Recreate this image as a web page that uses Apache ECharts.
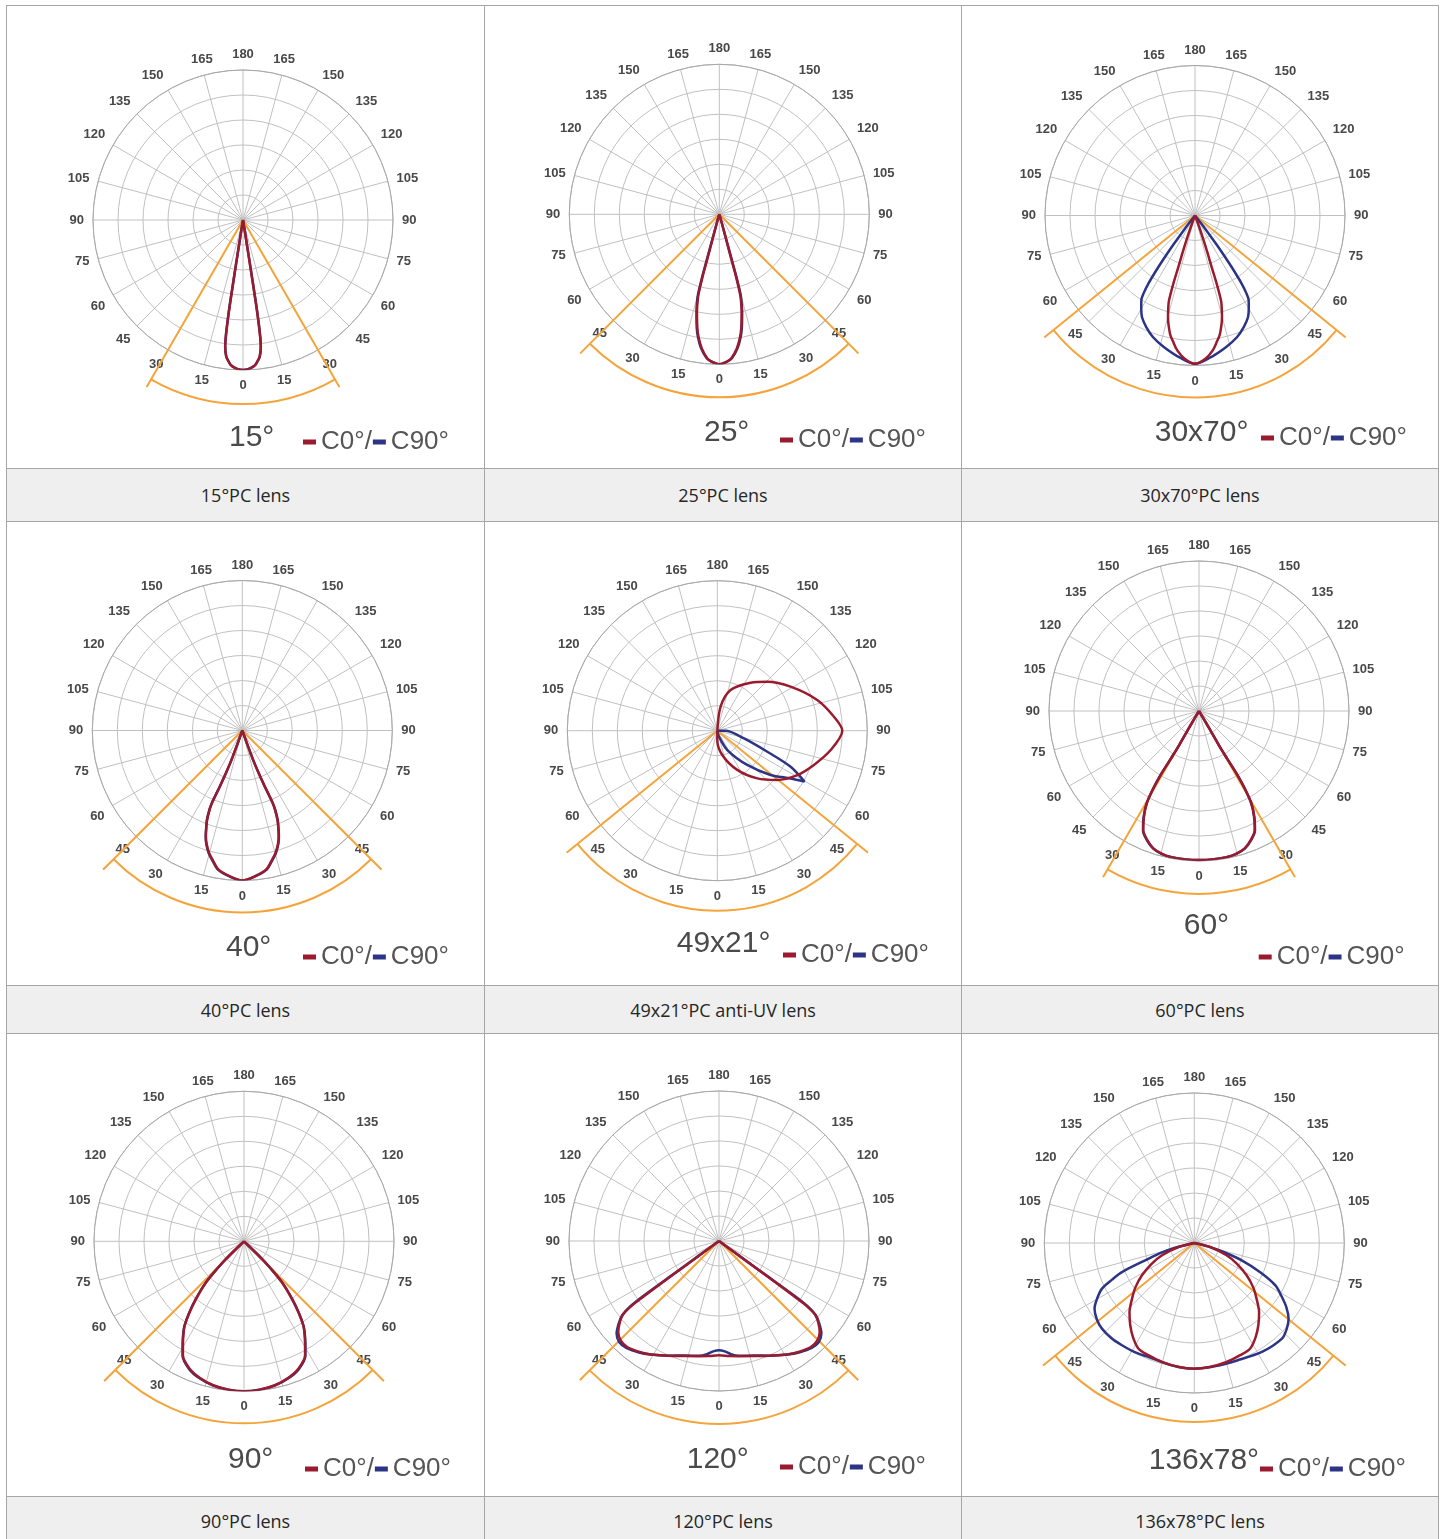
<!DOCTYPE html>
<html><head><meta charset="utf-8">
<script src="https://cdn.jsdelivr.net/npm/echarts@6/dist/echarts.min.js"></script>
<style>
html,body{margin:0;padding:0;background:#fff}
body{width:1444px;height:1539px;position:relative;overflow:hidden;font-family:'Open Sans',sans-serif}
.cell{position:absolute;box-sizing:border-box;border:1px solid #a6a6a6;background:#fff}
.cap{position:absolute;box-sizing:border-box;border:1px solid #a6a6a6;background:#efefef;display:flex;align-items:center;justify-content:center;font-size:18px;color:#262626}
.chart{position:absolute}
</style></head><body>
<script>
// ---------------- DATA (half profiles: [angle from nadir, intensity in ring units]) ----------------
const panelTitles = ['15°','25°','30x70°','40°','49x21°','60°','90°','120°','136x78°'];
const captions = ['15°PC lens','25°PC lens','30x70°PC lens','40°PC lens','49x21°PC anti-UV lens','60°PC lens','90°PC lens','120°PC lens','136x78°PC lens'];
const angleTicks = [0,15,30,45,60,75,90,105,120,135,150,165,180];
const seriesNames = ['C0°','C90°'];

// beam marker (orange): half-angles (deg)
const beamHalfAngle = [30,45,51,45,51,30,45,45,51];

// 15°
const p1_c0  = [[0,6.0],[2,5.97],[4,5.88],[5,5.8],[6,5.66],[7,5.5],[8,5.12],[8.4,4.6],[8.7,3.8],[8.8,3.2],[8.9,1.9],[9,0.9],[9.5,0.3],[10,0]];
const p1_c90 = [[0,6.0],[2,5.97],[4,5.88],[5,5.8],[6,5.66],[7,5.5],[8,5.12],[8.5,4.6],[8.8,3.8],[8.9,3.2],[9,1.9],[9.1,0.9],[9.5,0.3],[10,0]];
// 25°
const p2_c0  = [[0,6.0],[3,5.9],[4.8,5.78],[7.5,5.4],[9.5,5.0],[10.9,4.64],[12.9,4.0],[14,3.6],[14.6,3.3],[15,2.6],[15,1.96],[15.2,0.86],[16,0.3],[17,0]];
const p2_c90 = [[0,6.0],[3,5.9],[5,5.78],[7.8,5.4],[9.8,5.0],[11.2,4.64],[13.2,4.0],[14.3,3.6],[14.9,3.3],[15.3,2.6],[15.4,1.96],[15.6,0.86],[16,0.3],[17,0]];
// 30x70°
const p3_c0  = [[0,5.93],[4,5.75],[7.5,5.44],[10,5.1],[11.9,4.84],[14.9,4.2],[16.3,3.8],[17,3.56],[17.6,2.9],[17.9,2.17],[18.5,1.6],[19.2,1.06],[20,0.5],[21,0]];
const p3_c90 = [[0,5.93],[6,5.72],[13.2,5.41],[19,5.15],[23.6,4.87],[27.5,4.59],[30,4.3],[32.3,4.02],[33.5,3.7],[34.4,3.31],[35.4,2.54],[36,2.0],[36.6,1.41],[37.5,0.7],[38,0]];
// 40°
const p4_c0  = [[0,6.0],[5,5.85],[9.8,5.64],[13,5.3],[15.2,5.07],[17.5,4.75],[19,4.47],[20.5,4.1],[21.5,3.83],[22.5,3.4],[22.7,3.14],[22.4,2.8],[21.8,2.4],[21,1.8],[20.2,1.24],[20,0.6],[20,0]];
const p4_c90 = [[0,6.0],[5,5.86],[9.8,5.66],[13,5.33],[15.2,5.1],[17.5,4.78],[19,4.5],[20.5,4.12],[21.6,3.85],[22.6,3.4],[22.8,3.14],[22.5,2.8],[21.9,2.4],[21,1.8],[20.2,1.24],[20,0.6],[20,0]];
// 49x21° (asymmetric, full loops: [angle 0..360 clockwise from nadir, value])
const p5_c0  = [[188,0],[187.8,0.97],[198.1,1.71],[214.8,2.34],[225.6,2.8],[239,3.42],[252.9,4.18],[263.2,4.7],[270,5.0],[279.7,4.6],[289.5,4.1],[299,3.66],[309.4,3.1],[320,2.49],[333,1.76],[348.4,0.99],[360,0.37],[0,0]];
const p5_c90 = [[270,0],[270,0.33],[286.1,1.11],[292.8,2.17],[296.2,3.27],[300.3,4.04],[303.1,3.5],[309.7,2.77],[318.8,1.82],[332.6,0.87],[344,0.25],[0,0]];
// 60°
const p6_c0  = [[0,5.96],[5,5.96],[10.6,5.95],[14.5,5.9],[18.4,5.79],[22,5.55],[25.1,5.26],[27.5,4.77],[29.5,4.24],[30.5,3.6],[30.9,2.9],[30.5,2.2],[30.1,1.65],[30.5,1.0],[30.7,0.57],[31,0]];
const p6_c90 = [[0,5.96],[5,5.96],[10.6,5.95],[14.5,5.91],[18.4,5.8],[22,5.57],[25.1,5.28],[27.5,4.8],[29.5,4.26],[30.6,3.6],[31,2.9],[30.6,2.2],[30.2,1.65],[30.5,1.0],[30.7,0.57],[31,0]];
// 90°
const p7_c0  = [[0,6.0],[6,5.97],[12.1,5.89],[18,5.74],[23.1,5.54],[28.2,5.17],[31.2,4.71],[33.5,4.38],[35.2,4.11],[37.5,3.57],[40,2.95],[42.8,2.22],[44.5,1.5],[45.6,0.99],[46,0.4],[46,0]];
const p7_c90 = [[0,6.0],[6,5.97],[12.1,5.9],[18,5.76],[23.1,5.57],[28.2,5.2],[31.2,4.74],[33.5,4.4],[35.2,4.13],[37.5,3.6],[40,2.97],[42.8,2.24],[44.5,1.5],[45.6,0.99],[46,0.4],[46,0]];
// 120°
const p8_c0  = [[0,4.57],[5,4.62],[10,4.68],[16.9,4.81],[24,5.02],[31,5.3],[36,5.47],[40.9,5.61],[44.7,5.59],[47.9,5.43],[50.5,5.15],[52.5,4.85],[53.4,4.4],[53.6,3.73],[53.8,2.39],[53.6,1.08],[54,0]];
const p8_c90 = [[0,4.37],[3,4.42],[6,4.55],[10,4.66],[16.9,4.79],[24,5.02],[31,5.3],[36,5.5],[40.9,5.66],[44.7,5.68],[47.9,5.52],[50.5,5.2],[52.5,4.88],[53.6,4.4],[54,3.73],[54,2.39],[54,1.08],[54,0]];
// 136x78°
const p9_c0  = [[0,5.03],[7,5.0],[15.2,4.93],[22,4.85],[27.8,4.78],[33,4.5],[37.9,4.17],[43,3.8],[48.2,3.34],[53,2.95],[58.3,2.46],[64,1.9],[69.2,1.38],[75.7,0.65],[78,0]];
const p9_c90_left  = [[0,5.03],[10,4.98],[21.8,4.91],[28,4.97],[35.3,5.01],[41,5.05],[47.1,5.04],[52,4.95],[56.6,4.78],[60,4.5],[63.7,4.12],[66,3.6],[68.1,3.12],[71,1.93],[73.5,1.4],[75.7,0.92],[78,0]];
const p9_c90_right = [[0,5.03],[10,5.0],[20,5.0],[31.8,5.13],[42.5,5.19],[47,5.05],[51.2,4.84],[55,4.5],[58.5,4.1],[62.4,3.66],[66,2.9],[70,2.0],[73,1.2],[76,0.6],[78,0]];

// ---------------- LAYOUT ----------------
const colX = [6,484,961], colRight = 1438;
const rowY = [5,521,1033], capY = [468,985,1496], rowEnd = [521,1033,1545];
const centers = [[237,215],[235.3,209.3],[234,210.5],[236.3,209.5],[233.3,209.7],[238,190],[238,208.3],[235,208],[233.3,210]];
const arcRadiusPx = [184,183,182,182,180,183,182,183,179];
const rayLengthPx = [193,197,194,197,194,192,198,197,195];
const titlePos = [[223,418],[220,412.7],[193.7,412.7],[220,411.7],[192.7,408],[222.7,390],[222,411.7],[202.7,411.7],[187.7,413]];
const legendPos = [[297,424],[296,422],[300,420],[297,423],[299,421],[297.7,423],[299,423],[296,421],[299,423]];

const ORANGE = '#f4a43a', RED = '#9b1b2e', BLUE = '#2c3486';
const LABEL_FONT = 'Liberation Sans';

function loop(left, right){
  const out = [];
  for (let i = left.length-1; i >= 0; i--) out.push([left[i][1], left[i][0]]);
  for (let i = 0; i < right.length; i++) out.push([right[i][1], 360 - right[i][0]]);
  return out;
}
function raw(arr){ return arr.map(p => [p[1], p[0]]); }

const curves = [
  [loop(p1_c0,p1_c0), loop(p1_c90,p1_c90)],
  [loop(p2_c0,p2_c0), loop(p2_c90,p2_c90)],
  [loop(p3_c0,p3_c0), loop(p3_c90,p3_c90)],
  [loop(p4_c0,p4_c0), loop(p4_c90,p4_c90)],
  [raw(p5_c0), raw(p5_c90)],
  [loop(p6_c0,p6_c0), loop(p6_c90,p6_c90)],
  [loop(p7_c0,p7_c0), loop(p7_c90,p7_c90)],
  [loop(p8_c0,p8_c0), loop(p8_c90,p8_c90)],
  [loop(p9_c0,p9_c0), loop(p9_c90_left,p9_c90_right)]
];

for (let i = 0; i < 9; i++) {
  const r = Math.floor(i/3), c = i%3;
  const x = colX[c], w = (c < 2 ? colX[c+1] : colRight) - x + 1;
  const y = rowY[r], h = capY[r] - y + 1;
  const cell = document.createElement('div'); cell.className='cell';
  cell.style.cssText = `left:${x}px;top:${y}px;width:${w}px;height:${h}px`;
  document.body.appendChild(cell);
  const cap = document.createElement('div'); cap.className='cap';
  cap.style.cssText = `left:${x}px;top:${capY[r]}px;width:${w}px;height:${rowEnd[r]-capY[r]+1}px`;
  cap.textContent = captions[i];
  document.body.appendChild(cap);
  const ch = document.createElement('div'); ch.className='chart';
  ch.style.cssText = `left:${x}px;top:${y}px;width:${w}px;height:${h}px`;
  document.body.appendChild(ch);

  const chart = echarts.init(ch, null, {renderer:'canvas'});
  const b = beamHalfAngle[i];
  const hiddenAxis = {axisLine:{show:false}, axisTick:{show:false}, axisLabel:{show:false}, splitLine:{show:false}};
  chart.setOption({
    animation:false,
    title:{text:panelTitles[i], left:titlePos[i][0], top:titlePos[i][1], padding:0,
      textStyle:{fontFamily:'Liberation Sans', fontSize:30, fontWeight:'normal', color:'#4a4a4a'}},
    legend:{data:seriesNames, left:legendPos[i][0], top:legendPos[i][1], padding:0, itemGap:1,
      icon:'rect', itemWidth:13, itemHeight:5, selectedMode:false,
      formatter: n => n === 'C0°' ? 'C0°/' : n,
      textStyle:{fontFamily:'Liberation Sans', fontSize:26, color:'#555'}},
    polar:[
      {center:centers[i], radius:150},
      {center:centers[i], radius:arcRadiusPx[i]},
      {center:centers[i], radius:rayLengthPx[i]}
    ],
    angleAxis:[
      {polarIndex:0, type:'value', min:0, max:360, interval:15, startAngle:270, clockwise:true,
        axisLine:{lineStyle:{color:'#a8a8a8', width:1}}, axisTick:{show:false},
        axisLabel:{margin:9, color:'#484848', fontWeight:'bold', fontSize:13, fontFamily:LABEL_FONT,
          formatter: v => { const a = v > 180 ? 360 - v : v; return angleTicks.indexOf(a) >= 0 ? String(a) : ''; }},
        splitLine:{lineStyle:{color:'#c0c0c0', width:1}}},
      {polarIndex:1, type:'value', min:0, max:1, startAngle:270 + b, endAngle:270 - b, clockwise:true,
        axisLine:{lineStyle:{color:ORANGE, width:2}}, axisTick:{show:false}, axisLabel:{show:false}, splitLine:{show:false}},
      Object.assign({polarIndex:2, type:'value', min:0, max:360, startAngle:270, clockwise:true}, hiddenAxis)
    ],
    radiusAxis:[
      {polarIndex:0, type:'value', min:0, max:6, interval:1, axisLine:{show:false}, axisTick:{show:false},
        axisLabel:{show:false}, splitLine:{lineStyle:{color:'#c0c0c0', width:1}}},
      Object.assign({polarIndex:1, type:'value', min:0, max:1}, hiddenAxis),
      Object.assign({polarIndex:2, type:'value', min:0, max:1}, hiddenAxis)
    ],
    series:[
      {name:'beam', type:'line', coordinateSystem:'polar', polarIndex:2, clip:false, symbol:'none', silent:true, z:2,
        data:[[1, b],[0, 0],[1, 360 - b]], lineStyle:{color:ORANGE, width:2}},
      {name:'C90°', type:'line', coordinateSystem:'polar', polarIndex:0, clip:false, symbol:'none', smooth:0.3, z:3,
        data:curves[i][1], itemStyle:{color:BLUE}, lineStyle:{color:BLUE, width:2.5}},
      {name:'C0°', type:'line', coordinateSystem:'polar', polarIndex:0, clip:false, symbol:'none', smooth:0.3, z:4,
        data:curves[i][0], itemStyle:{color:RED}, lineStyle:{color:RED, width:2.5}}
    ]
  });
}
</script>
</body></html>
